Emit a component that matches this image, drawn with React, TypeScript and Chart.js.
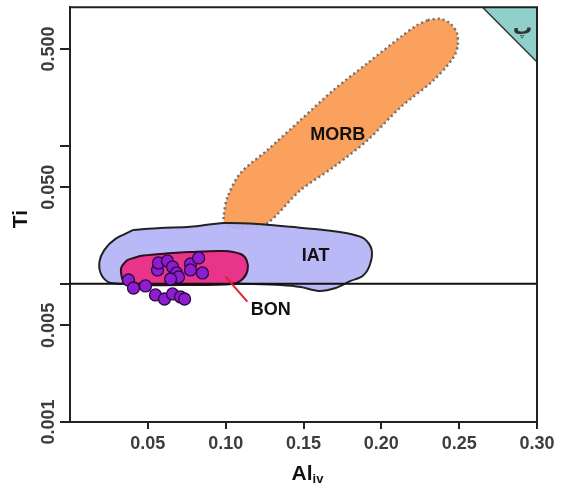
import React, { useEffect, useRef } from "react";
import { Chart, registerables } from "chart.js";

Chart.register(...registerables);

// Axis ticks
const xTicks = [0.05, 0.1, 0.15, 0.2, 0.25, 0.3];
const yTicks = [0.001, 0.005, 0.01, 0.05, 0.1, 0.5];
const yLabelled = [0.001, 0.005, 0.05, 0.5];

// MORB field (dotted outline)
const morbAl = [0.2298, 0.2382, 0.2446, 0.2485, 0.2491, 0.2466, 0.2337, 0.2125, 0.1913, 0.1694, 0.1482, 0.1269, 0.116, 0.1064, 0.0993, 0.0987, 0.1012, 0.1096, 0.1269, 0.1482, 0.1694, 0.1913, 0.2125, 0.2222];
const morbTi = [0.81, 0.824, 0.758, 0.653, 0.534, 0.438, 0.298, 0.19, 0.1098, 0.07, 0.0477, 0.0275, 0.0258, 0.0253, 0.0271, 0.0304, 0.0425, 0.0633, 0.0929, 0.1532, 0.2526, 0.396, 0.611, 0.733];

// IAT field
const iatAl = [0.0408, 0.0581, 0.0774, 0.0987, 0.1205, 0.1417, 0.163, 0.1803, 0.1893, 0.1938, 0.1926, 0.188, 0.1803, 0.1707, 0.1598, 0.1482, 0.1353, 0.116, 0.0839, 0.0517, 0.026, 0.0202, 0.0189, 0.0221, 0.0292];
const iatTi = [0.0245, 0.0253, 0.0258, 0.0275, 0.0271, 0.0258, 0.0245, 0.0229, 0.0211, 0.0176, 0.01368, 0.01139, 0.01048, 0.00932, 0.00887, 0.00948, 0.0098, 0.00997, 0.01013, 0.01013, 0.01013, 0.01158, 0.01438, 0.0176, 0.0211];

// BON field
const bonAl = [0.0369, 0.0453, 0.0581, 0.0774, 0.0987, 0.1096, 0.1134, 0.1141, 0.1109, 0.1044, 0.071, 0.0356, 0.0331, 0.0331];
const bonTi = [0.01487, 0.01589, 0.01643, 0.01698, 0.01727, 0.01643, 0.01487, 0.01259, 0.01083, 0.00997, 0.0098, 0.00997, 0.01139, 0.01323];

// Upper-right corner field
const cornerAl = [0.265, 0.3, 0.3];
const cornerTi = [1, 1, 0.402];

// Reference line Ti = 0.01
const refAl = [0, 0.3];
const refTi = [0.01, 0.01];

// Leader line for the BON label
const leaderAl = [0.0999, 0.1139];
const leaderTi = [0.01126, 0.00742];

// Analysed samples
const sampleAl = [0.0376, 0.0408, 0.0485, 0.0549, 0.0607, 0.0659, 0.071, 0.0736, 0.0562, 0.0568, 0.0626, 0.0659, 0.0684, 0.0697, 0.0646, 0.0774, 0.0826, 0.0774, 0.0851];
const sampleTi = [0.01065, 0.00932, 0.00964, 0.0083, 0.00776, 0.00844, 0.00803, 0.00776, 0.01259, 0.01414, 0.01462, 0.01323, 0.01197, 0.0112, 0.01083, 0.0139, 0.01537, 0.01259, 0.01197];

// Field names
const fieldNames = ["MORB", "IAT", "BON", "پ"];
const fieldNameAl = [0.172, 0.1578, 0.1289, 0.2907];
const fieldNameTi = [0.1193, 0.01589, 0.00646, 0.70];

const toXY = (xs: number[], ys: number[]) => xs.map((x, i) => ({ x, y: ys[i] }));
const closed = (xs: number[], ys: number[]) => {
  const p = toXY(xs, ys);
  return [...p, p[0]];
};

const TEXT = "#111";
const TICK = "#3d3d3d";
const FONT = '"Liberation Sans", Arial, sans-serif';

const framePlugin = {
  id: "frame",
  afterDraw(chart: any) {
    const { ctx, chartArea } = chart;
    ctx.save();
    ctx.strokeStyle = "#222";
    ctx.lineWidth = 2;
    ctx.beginPath();
    ctx.moveTo(chartArea.left, chartArea.top);
    ctx.lineTo(chartArea.right, chartArea.top);
    ctx.lineTo(chartArea.right, chartArea.bottom);
    ctx.stroke();

    // axis titles
    ctx.fillStyle = TEXT;
    ctx.font = `bold 21px ${FONT}`;
    ctx.textBaseline = "alphabetic";
    ctx.textAlign = "left";
    const alW = ctx.measureText("Al").width;
    ctx.font = `bold 13px ${FONT}`;
    const ivW = ctx.measureText("iv").width;
    const cx = (chartArea.left + chartArea.right) / 2 + 4;
    const startX = cx - (alW + ivW) / 2;
    ctx.font = `bold 21px ${FONT}`;
    ctx.fillText("Al", startX, 480);
    ctx.font = `bold 13px ${FONT}`;
    ctx.fillText("iv", startX + alW, 483);

    ctx.save();
    ctx.translate(21, 219);
    ctx.rotate(-Math.PI / 2);
    ctx.font = `bold 21px ${FONT}`;
    ctx.textAlign = "center";
    ctx.textBaseline = "middle";
    ctx.fillText("Ti", 0, 0);
    ctx.restore();
    ctx.restore();
  },
};

const fieldNamePlugin = {
  id: "fieldNames",
  afterDatasetsDraw(chart: any) {
    const { ctx } = chart;
    const xs = chart.scales.x;
    const ys = chart.scales.y;
    ctx.save();
    ctx.textAlign = "center";
    ctx.textBaseline = "middle";
    fieldNames.forEach((name, i) => {
      const arabic = /[\u0600-\u06FF]/.test(name);
      ctx.font = arabic ? 'bold 19px "DejaVu Sans", sans-serif' : `bold 18px ${FONT}`;
      ctx.fillStyle = arabic ? "#333" : TEXT;
      ctx.fillText(name, xs.getPixelForValue(fieldNameAl[i]), ys.getPixelForValue(fieldNameTi[i]));
    });
    ctx.restore();
  },
};

export default function App() {
  const ref = useRef<HTMLCanvasElement>(null);

  useEffect(() => {
    document.body.style.margin = "0";
    const canvas = ref.current;
    if (!canvas) return;

    const fieldLine = { showLine: true, pointRadius: 0, pointHoverRadius: 0, fill: "shape" as const };

    const chart = new Chart(canvas, {
      type: "scatter",
      data: {
        datasets: [
          {
            label: "Samples",
            data: toXY(sampleAl, sampleTi),
            pointRadius: 6,
            pointBackgroundColor: "#8e1dcf",
            pointBorderColor: "#2c0845",
            pointBorderWidth: 1.3,
            order: 0,
          },
          {
            label: "BON leader",
            data: toXY(leaderAl, leaderTi),
            showLine: true,
            pointRadius: 0,
            borderColor: "#e0202c",
            borderWidth: 2,
            order: 1,
          },
          {
            label: "Ti = 0.01",
            data: toXY(refAl, refTi),
            showLine: true,
            pointRadius: 0,
            borderColor: "#111",
            borderWidth: 2,
            order: 2,
          },
          {
            label: "BON",
            data: closed(bonAl, bonTi),
            ...fieldLine,
            tension: 0.3,
            backgroundColor: "#e8358b",
            borderColor: "#2a0f1f",
            borderWidth: 2,
            order: 3,
          },
          {
            label: "IAT",
            data: closed(iatAl, iatTi),
            ...fieldLine,
            tension: 0.3,
            backgroundColor: "rgba(180,180,248,0.93)",
            borderColor: "#222",
            borderWidth: 2,
            order: 4,
          },
          {
            label: "MORB",
            data: closed(morbAl, morbTi),
            ...fieldLine,
            tension: 0.3,
            backgroundColor: "#f9a15d",
            borderColor: "#707070",
            borderWidth: 2.5,
            borderDash: [2, 3],
            order: 5,
          },
          {
            label: "Corner",
            data: closed(cornerAl, cornerTi),
            ...fieldLine,
            tension: 0,
            backgroundColor: "#8fd0ca",
            borderColor: "#333",
            borderWidth: 1.5,
            order: 6,
          },
        ],
      },
      options: {
        responsive: false,
        animation: false,
        events: [],
        layout: { padding: { top: 7, right: 24, left: 0, bottom: 0 } },
        plugins: {
          legend: { display: false },
          tooltip: { enabled: false },
          title: { display: false },
        },
        scales: {
          x: {
            type: "linear",
            min: 0,
            max: 0.3,
            afterBuildTicks: (scale: any) => {
              scale.ticks = xTicks.map((value) => ({ value }));
            },
            afterFit: (scale: any) => {
              scale.height = 64;
            },
            grid: { drawOnChartArea: false, drawTicks: true, tickLength: 7, color: "#222", lineWidth: 2 },
            border: { display: true, color: "#222", width: 2 },
            ticks: {
              color: TICK,
              font: { family: FONT, size: 18, weight: "bold" },
              padding: 4,
              maxRotation: 0,
              minRotation: 0,
              callback: (v: any) => Number(v).toFixed(2),
            },
          },
          y: {
            type: "logarithmic",
            min: 0.001,
            max: 1,
            afterBuildTicks: (scale: any) => {
              scale.ticks = yTicks.map((value) => ({ value }));
            },
            afterFit: (scale: any) => {
              scale.width = 70;
            },
            grid: { drawOnChartArea: false, drawTicks: true, tickLength: 10, color: "#222", lineWidth: 2 },
            border: { display: true, color: "#222", width: 2 },
            ticks: {
              color: TICK,
              font: { family: FONT, size: 18, weight: "bold" },
              minRotation: 90,
              maxRotation: 90,
              crossAlign: "center",
              padding: -12,
              autoSkip: false,
              callback: (v: any) => (yLabelled.some((t) => Math.abs(t - Number(v)) < 1e-9) ? Number(v).toFixed(3) : ""),
            },
          },
        },
      },
      plugins: [fieldNamePlugin, framePlugin],
    } as any);

    return () => chart.destroy();
  }, []);

  return (
    <div style={{ width: 561, height: 486, background: "#fff" }}>
      <canvas ref={ref} width={561} height={486} style={{ display: "block" }} />
    </div>
  );
}
